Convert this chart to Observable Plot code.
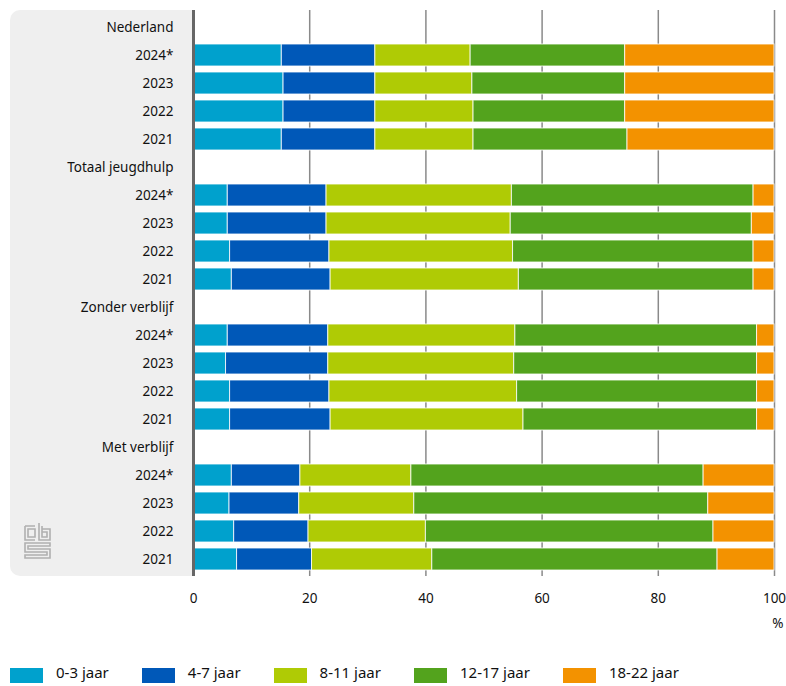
<!DOCTYPE html>
<html>
<head>
<meta charset="utf-8">
<script src="https://cdn.jsdelivr.net/npm/d3@7"></script>
<script src="https://cdn.jsdelivr.net/npm/@observablehq/plot@0.6"></script>
<style>
  html, body { margin: 0; padding: 0; background: #fff; }
  body { width: 786px; height: 686px; overflow: hidden; font-family: "Noto Sans", sans-serif; }
  #wrap { position: relative; width: 786px; height: 686px; }
  #panel { position: absolute; left: 10px; top: 10px; width: 184px; height: 566px; background: #efefef; border-radius: 10px 0 0 10px; }
  #logo { position: absolute; left: 24px; top: 522px; }
  #chart { position: absolute; left: 0; top: 0; }
  #chart svg { background: transparent !important; overflow: visible; }
  #legend { position: absolute; left: 10px; top: 665px; display: flex; gap: 33px; align-items: flex-start; font-size: 15px; line-height: 15px; color: #111; }
  .item { display: flex; align-items: flex-start; gap: 13px; }
  .sw { width: 33px; height: 15px; display: inline-block; margin-top: 3px; }
</style>
</head>
<body>
<div id="wrap">
  <div id="panel"></div>
  <svg id="logo" width="30" height="40" viewBox="0 0 30 40">
    <g fill="none" stroke="#b0b0b0" stroke-width="1.6">
      <path d="M1 4 H11 M1 4 V18 H11 M4 7 H11 V15 H4 Z"/>
      <path d="M15 1 V18 H26 V7 H18 M18 4 V15 H23 V10 H18"/>
      <path d="M26 21 H1 V30 H23 V33 H1 V36 H26 V27 H4 V24 H26 Z"/>
    </g>
  </svg>
  <div id="chart"></div>
  <div id="legend"></div>
</div>
<script>
const groups = ["Nederland", "Totaal jeugdhulp", "Zonder verblijf", "Met verblijf"];
const years = ["2024*", "2023", "2022", "2021"];
const ageClasses = ["0-3 jaar", "4-7 jaar", "8-11 jaar", "12-17 jaar", "18-22 jaar"];
const ageColors = ["#00a1cd", "#0058b8", "#afcb05", "#53a31d", "#f39200"];

// percentages per year (rows follow `years`), columns follow `ageClasses`
const nederland = [
  [15.2, 16.1, 16.4, 26.6, 25.7],
  [15.5, 15.8, 16.7, 26.3, 25.7],
  [15.5, 15.8, 16.9, 26.1, 25.7],
  [15.2, 16.1, 16.9, 26.5, 25.3]
];
const totaalJeugdhulp = [
  [5.9, 17.0, 31.9, 41.6, 3.6],
  [5.9, 17.0, 31.7, 41.5, 3.9],
  [6.3, 17.1, 31.6, 41.4, 3.6],
  [6.6, 17.0, 32.4, 40.4, 3.6]
];
const zonderVerblijf = [
  [5.9, 17.3, 32.2, 41.6, 3.0],
  [5.6, 17.6, 32.0, 41.8, 3.0],
  [6.3, 17.1, 32.3, 41.3, 3.0],
  [6.3, 17.3, 33.2, 40.2, 3.0]
];
const metVerblijf = [
  [6.6, 11.8, 19.1, 50.3, 12.2],
  [6.2, 12.0, 19.8, 50.6, 11.4],
  [7.0, 12.8, 20.2, 49.5, 10.5],
  [7.5, 12.9, 20.7, 49.1, 9.8]
];
const xTicks = [0, 20, 40, 60, 80, 100];

const groupValues = [nederland, totaalJeugdhulp, zonderVerblijf, metVerblijf];
const rowDomain = [];
const data = [];
groups.forEach((g, gi) => {
  rowDomain.push(g);
  years.forEach((yr, yi) => {
    const key = g + "|" + yr;
    rowDomain.push(key);
    ageClasses.forEach((a, ai) => {
      data.push({row: key, age: a, value: groupValues[gi][yi][ai]});
    });
  });
});

const chart = Plot.plot({
  width: 786,
  height: 640,
  marginLeft: 193,
  marginRight: 12,
  marginTop: 10,
  marginBottom: 64,
  style: {fontFamily: "Noto Sans, sans-serif", fontSize: "13.5px", color: "#111", background: "transparent"},
  x: {domain: [0, 100], ticks: xTicks, label: "%", labelAnchor: "right", labelArrow: false, labelOffset: 51, tickSize: 0, tickPadding: 17},
  y: {domain: rowDomain, paddingInner: 0.22, paddingOuter: 0.11, label: null, tickSize: 0, tickPadding: 20,
      tickFormat: d => d.includes("|") ? d.split("|")[1] : d},
  color: {domain: ageClasses, range: ageColors},
  marks: [
    Plot.ruleX(xTicks.filter(d => d > 0), {stroke: "#8a8a8a", strokeWidth: 1.5}),
    Plot.barX(data, Plot.stackX({x: "value", y: "row", fill: "age", stroke: "#ffffff", strokeWidth: 1, strokeOpacity: 0.8, inset: 0})),
    Plot.ruleX([0], {stroke: "#666", strokeWidth: 3})
  ]
});
document.getElementById("chart").appendChild(chart);

const legend = document.getElementById("legend");
ageClasses.forEach((a, i) => {
  const item = document.createElement("div");
  item.className = "item";
  const sw = document.createElement("span");
  sw.className = "sw";
  sw.style.background = ageColors[i];
  const t = document.createElement("span");
  t.textContent = a;
  item.appendChild(sw);
  item.appendChild(t);
  legend.appendChild(item);
});
</script>
</body>
</html>
